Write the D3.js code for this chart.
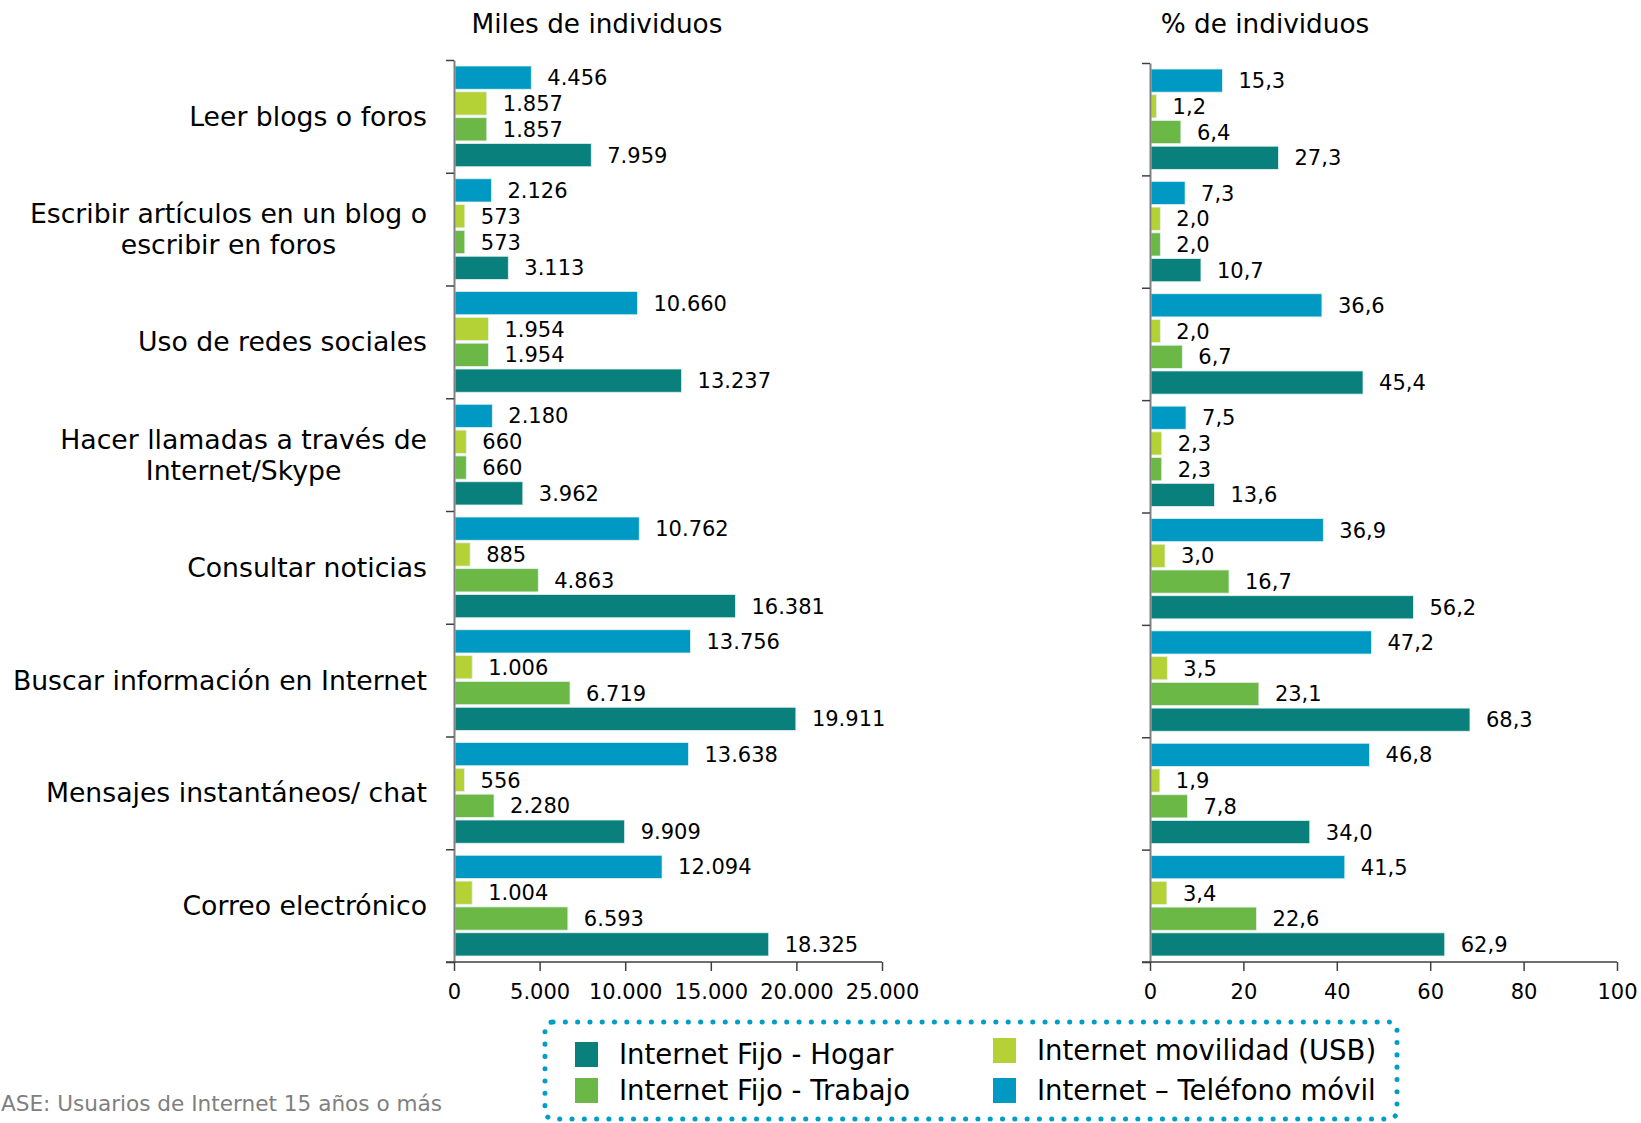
<!DOCTYPE html>
<html>
<head>
<meta charset="utf-8">
<script src="https://cdn.jsdelivr.net/npm/d3@7"></script>
<style>
  body { margin: 0; background: #ffffff; }
  svg { display: block; font-family: "DejaVu Sans", Verdana, sans-serif; }
</style>
</head>
<body>
<svg width="1641" height="1123"></svg>
<script>
// categories top to bottom
const categories = [
  "Leer blogs o foros",
  "Escribir artículos en un blog o|escribir en foros",
  "Uso de redes sociales",
  "Hacer llamadas a través de|Internet/Skype",
  "Consultar noticias",
  "Buscar información en Internet",
  "Mensajes instantáneos/ chat",
  "Correo electrónico"
]
// series, in the order they stack inside each group (top to bottom)
const seriesNames = ["Internet – Teléfono móvil", "Internet movilidad (USB)", "Internet Fijo - Trabajo", "Internet Fijo - Hogar"]
const seriesColors = ["#0099c3", "#b4d236", "#6bb846", "#0a807d"]

// Miles de individuos
const milesMovil   = [4456, 2126, 10660, 2180, 10762, 13756, 13638, 12094]
const milesUSB     = [1857, 573, 1954, 660, 885, 1006, 556, 1004]
const milesTrabajo = [1857, 573, 1954, 660, 4863, 6719, 2280, 6593]
const milesHogar   = [7959, 3113, 13237, 3962, 16381, 19911, 9909, 18325]

// % de individuos
const pctMovil   = [15.3, 7.3, 36.6, 7.5, 36.9, 47.2, 46.8, 41.5]
const pctUSB     = [1.2, 2.0, 2.0, 2.3, 3.0, 3.5, 1.9, 3.4]
const pctTrabajo = [6.4, 2.0, 6.7, 2.3, 16.7, 23.1, 7.8, 22.6]
const pctHogar   = [27.3, 10.7, 45.4, 13.6, 56.2, 68.3, 34.0, 62.9]

const milesTicks = [0, 5000, 10000, 15000, 20000, 25000]
const pctTicks = [0, 20, 40, 60, 80, 100]

// legend order (column, row)
const legendOrder = ["Internet Fijo - Hogar", "Internet Fijo - Trabajo", "Internet movilidad (USB)", "Internet – Teléfono móvil"]

const loc = d3.formatLocale({decimal: ",", thousands: ".", grouping: [3], currency: ["", "€"]})
const fmtMiles = loc.format(",.0f")
const fmtPct = loc.format(",.1f")

const svg = d3.select("svg")
const color = d3.scaleOrdinal().domain(seriesNames).range(seriesColors)

function drawPanel(opt) {
    const g = svg.append("g")
    const y = d3.scaleBand().domain(categories).range([opt.top, opt.bottom])
    const inner = d3.scaleBand().domain(seriesNames)
        .range([6, y.bandwidth() - 6]).paddingInner(0.1)
    const x = d3.scaleLinear().domain([0, opt.max]).range([opt.left, opt.right])

    const rows = []
    categories.forEach((c, i) => {
        opt.values.forEach((arr, s) => {
            rows.push({cat: c, series: seriesNames[s], v: arr[i]})
        })
    })

    g.selectAll("rect.bar").data(rows).enter().append("rect")
        .attr("class", "bar")
        .attr("x", x(0) + 1)
        .attr("y", d => y(d.cat) + inner(d.series))
        .attr("width", d => Math.max(0, x(d.v) - x(0)))
        .attr("height", inner.bandwidth())
        .attr("fill", d => color(d.series))
        .attr("stroke", "#e3f0ee")
        .attr("stroke-width", 0.8)

    g.selectAll("text.val").data(rows).enter().append("text")
        .attr("class", "val")
        .attr("x", d => x(d.v) + 17)
        .attr("y", d => y(d.cat) + inner(d.series) + inner.bandwidth() / 2)
        .attr("dy", "0.36em")
        .attr("font-size", 21)
        .attr("fill", "#000")
        .text(d => opt.fmt(d.v))

    // y axis with ticks at group boundaries
    const yb = d3.scaleLinear().domain([0, categories.length]).range([opt.top, opt.bottom])
    const yAxis = g.append("g").attr("transform", `translate(${x(0)},0)`)
        .call(d3.axisLeft(yb).tickValues(d3.range(categories.length + 1)).tickFormat("").tickSize(8).tickSizeOuter(0))
    yAxis.select(".domain").attr("stroke", "#808080").attr("stroke-width", 2)
    yAxis.selectAll(".tick line").attr("stroke", "#404040").attr("stroke-width", 1.5)

    // x axis
    const xAxis = g.append("g").attr("transform", `translate(0,${opt.bottom})`)
        .call(d3.axisBottom(x).tickValues(opt.ticks).tickFormat(opt.tickFmt).tickSize(9).tickSizeOuter(0))
    xAxis.select(".domain").remove()
    xAxis.append("line")
        .attr("x1", x(0) - 8).attr("x2", opt.right)
        .attr("stroke", "#404040").attr("stroke-width", 1.5)
    xAxis.selectAll(".tick line").attr("stroke", "#404040").attr("stroke-width", 1.5)
    xAxis.selectAll(".tick text")
        .attr("font-size", 21).attr("fill", "#000")
        .attr("font-family", "DejaVu Sans, Verdana, sans-serif")
        .attr("y", 22).attr("dy", "0.71em")

    svg.append("text")
        .attr("x", opt.titleX).attr("y", 33)
        .attr("text-anchor", "middle")
        .attr("font-size", 26.3)
        .text(opt.title)

    return y
}

const yL = drawPanel({
    top: 60, bottom: 962, left: 454, right: 882, max: 25000,
    values: [milesMovil, milesUSB, milesTrabajo, milesHogar],
    fmt: fmtMiles, ticks: milesTicks, tickFmt: fmtMiles,
    title: "Miles de individuos", titleX: 597
})

drawPanel({
    top: 63, bottom: 962, left: 1150, right: 1617, max: 100,
    values: [pctMovil, pctUSB, pctTrabajo, pctHogar],
    fmt: fmtPct, ticks: pctTicks, tickFmt: d3.format("d"),
    title: "% de individuos", titleX: 1265
})

// category labels, right aligned block, lines centred
const labelRight = 427
categories.forEach(c => {
    const lines = c.split("|")
    const cy = yL(c) + yL.bandwidth() / 2
    const t = svg.append("text")
        .attr("font-size", 26.7)
        .attr("text-anchor", "middle")
    lines.forEach((ln, i) => {
        t.append("tspan")
            .attr("y", cy + (i - (lines.length - 1) / 2) * 31)
            .attr("dy", "0.36em")
            .text(ln)
    })
    let w = 0
    t.selectAll("tspan").each(function() { w = Math.max(w, this.getComputedTextLength()) })
    t.selectAll("tspan").attr("x", labelRight - w / 2)
})

// footer (partly cut at the left edge)
svg.append("text")
    .attr("x", 442).attr("y", 1111)
    .attr("text-anchor", "end")
    .attr("font-size", 21.6)
    .attr("fill", "#808080")
    .text("BASE: Usuarios de Internet 15 años o más")

// legend
const lg = svg.append("g")
lg.append("rect")
    .attr("x", 545).attr("y", 1022)
    .attr("width", 852).attr("height", 97)
    .attr("rx", 8)
    .attr("fill", "none")
    .attr("stroke", "#009ec6")
    .attr("stroke-width", 5)
    .attr("stroke-linecap", "round")
    .attr("stroke-dasharray", "0.1 12.2")

const legendCols = [575, 993]
const legendRows = [[1042, 1078], [1038, 1078]]
legendOrder.forEach((name, i) => {
    const col = Math.floor(i / 2), row = i % 2
    const item = lg.append("g").attr("transform", `translate(${legendCols[col]},${legendRows[col][row]})`)
    item.append("rect")
        .attr("width", 23).attr("height", 25)
        .attr("fill", color(name))
    item.append("text")
        .attr("x", 44).attr("y", 12.5)
        .attr("dy", "0.36em")
        .attr("font-size", 27.5)
        .text(name)
})
</script>
</body>
</html>
